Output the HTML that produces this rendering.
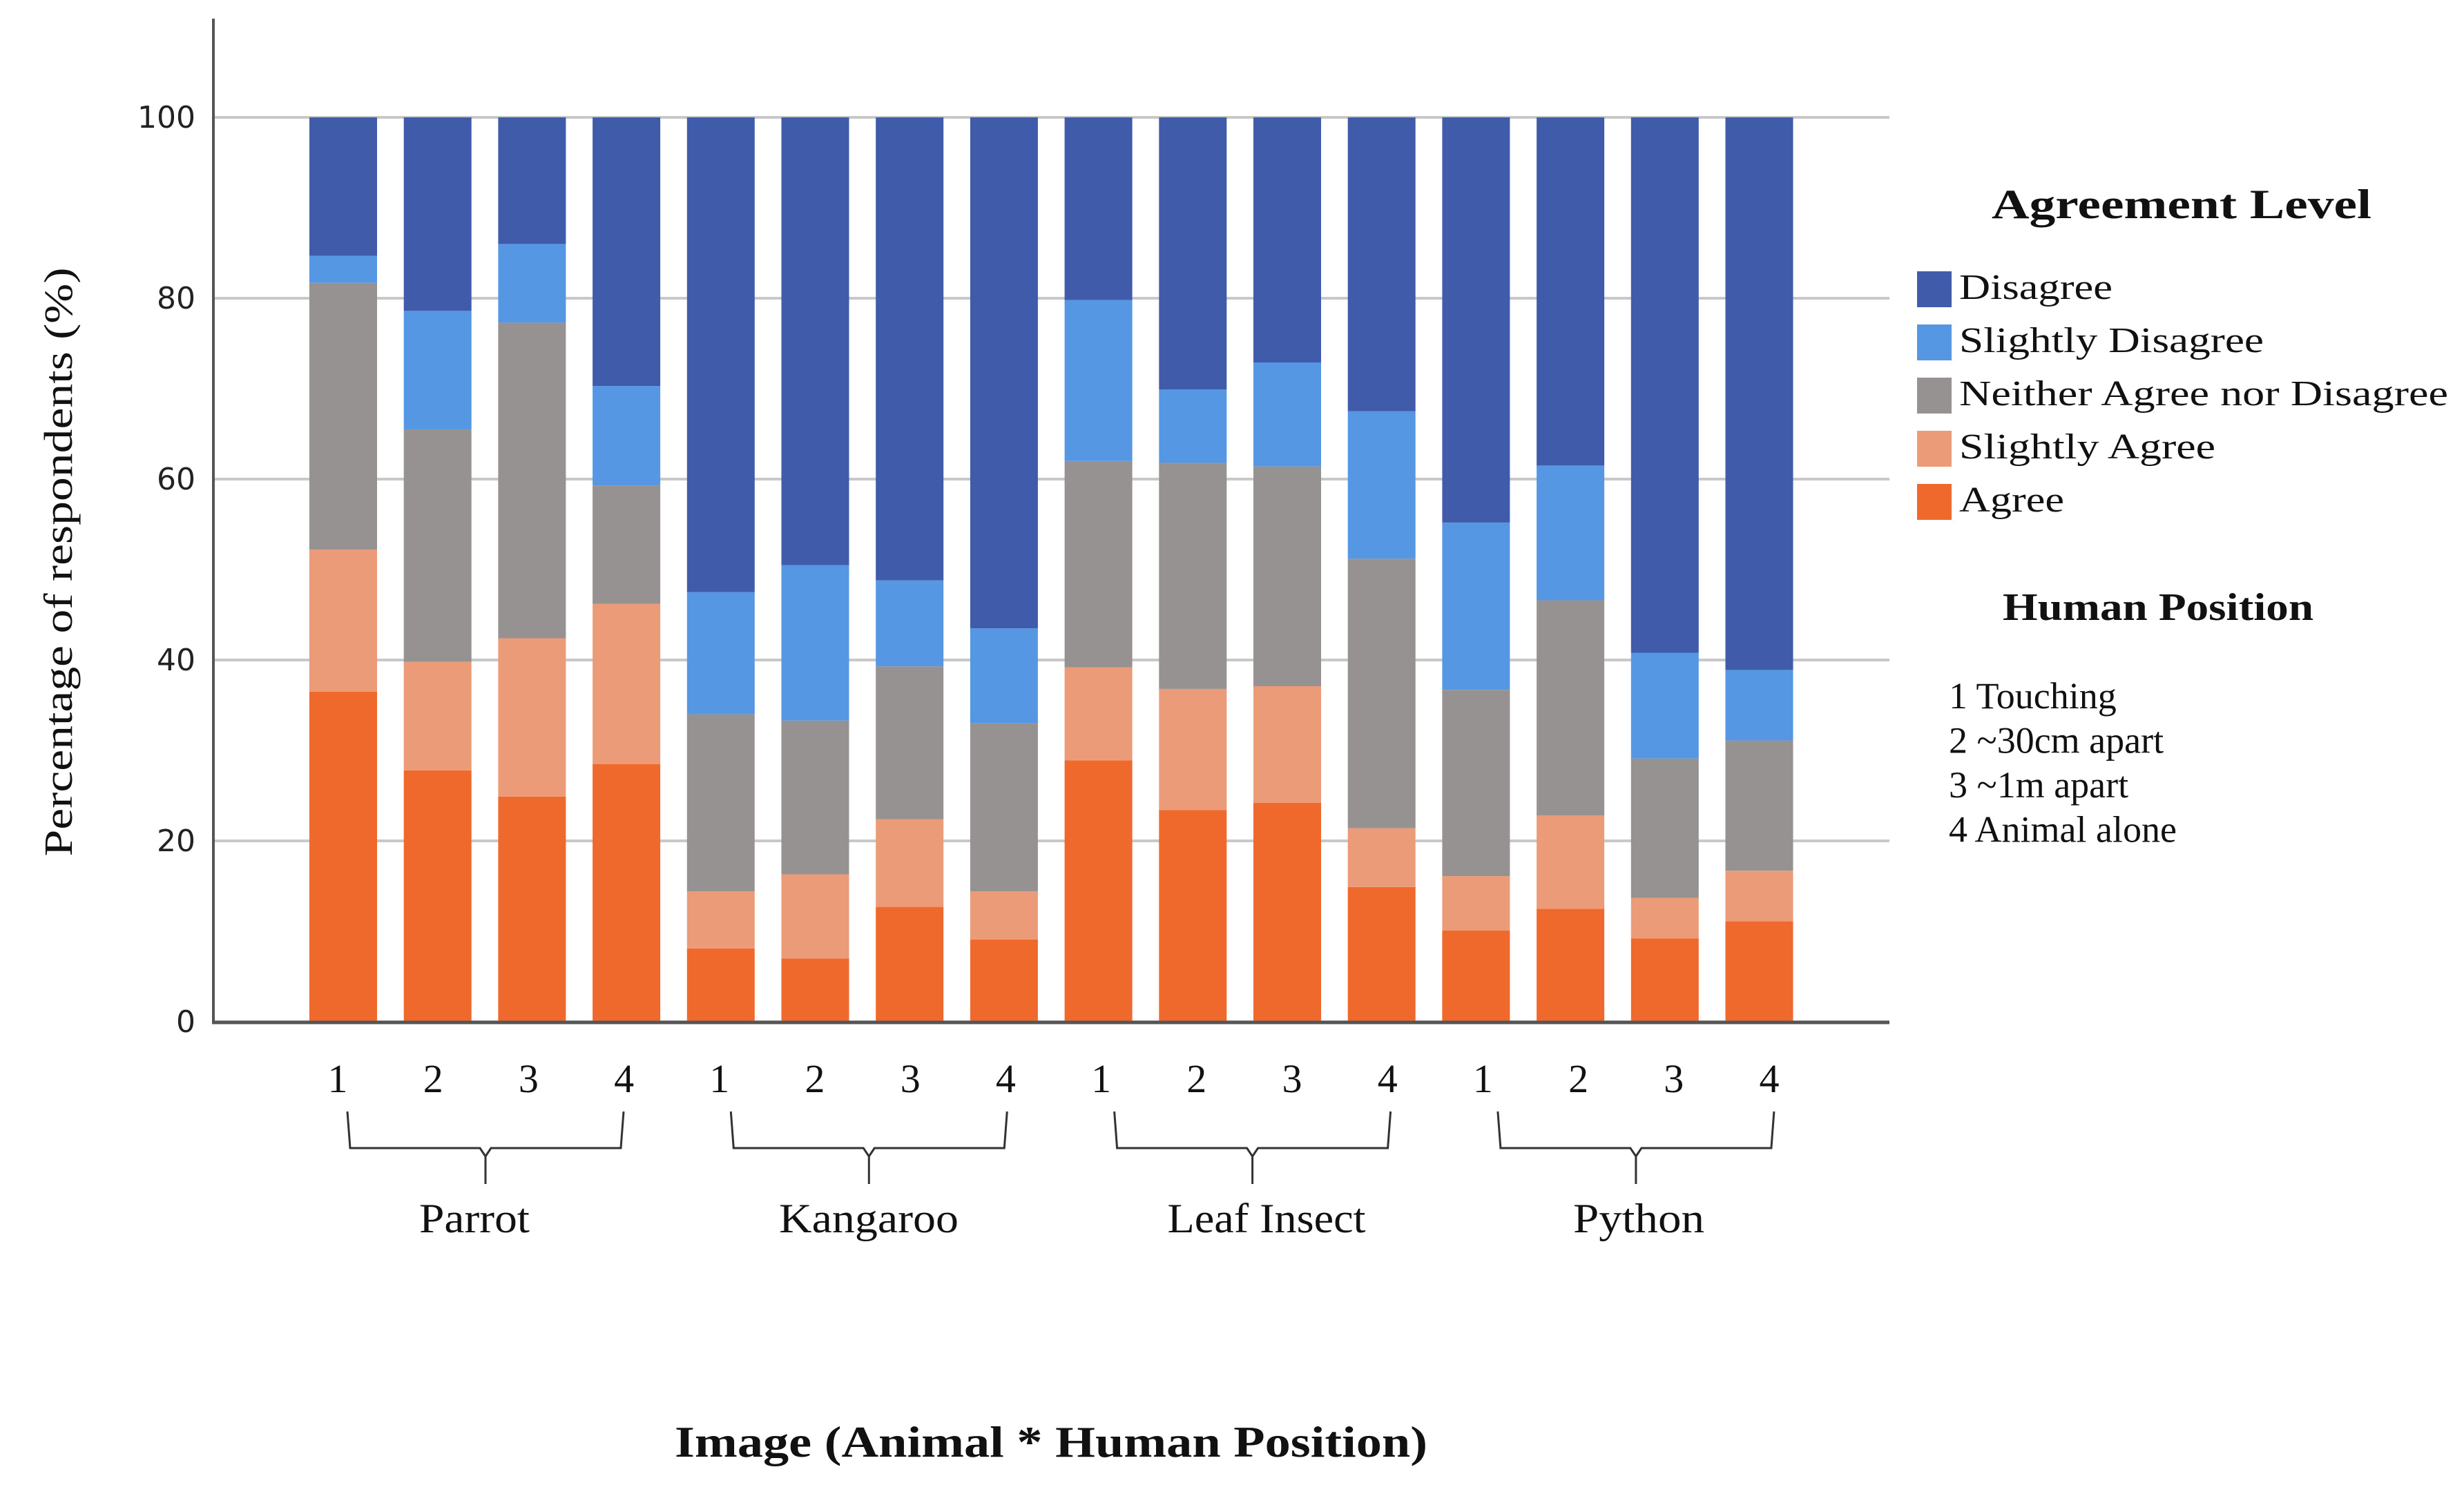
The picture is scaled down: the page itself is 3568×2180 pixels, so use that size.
<!DOCTYPE html>
<html><head><meta charset="utf-8">
<style>html,body{margin:0;padding:0;background:#fff;}svg{display:block;}</style>
</head><body>
<svg id="chart" width="3568" height="2180" viewBox="0 0 3568 2180" xmlns="http://www.w3.org/2000/svg"></svg>
<script>
const categories = ["1","2","3","4","1","2","3","4","1","2","3","4","1","2","3","4"];
const groups = ["Parrot","Kangaroo","Leaf Insect","Python"];
const seriesNames = ["Agree","Slightly Agree","Neither Agree nor Disagree","Slightly Disagree","Disagree"];
const agree = [36.5,27.8,24.9,28.5,8.1,7.0,12.7,9.1,28.9,23.4,24.2,14.9,10.1,12.5,9.2,11.1];
const slightlyAgree = [15.7,12.0,17.5,17.7,6.3,9.3,9.7,5.3,10.3,13.4,12.9,6.5,6.0,10.3,4.5,5.6];
const neither = [29.5,25.7,34.9,13.1,19.6,17.0,16.9,18.6,22.8,25.0,24.3,29.8,20.6,23.8,15.4,14.4];
const slightlyDisagree = [3.0,13.1,8.7,11.0,13.5,17.2,9.5,10.5,17.8,8.1,11.5,16.3,18.5,14.9,11.7,7.8];
const disagree = [15.3,21.4,14.0,29.7,52.5,49.5,51.2,56.5,20.2,30.1,27.1,32.5,44.8,38.5,59.2,61.1];
const yTicks = [0,20,40,60,80,100];
const legendHuman = ["1 Touching","2 ~30cm apart","3 ~1m apart","4 Animal alone"];

const colors = ["#f0692c","#ec9b78","#979292","#5597e2","#3f5ba9"];
const series = [agree, slightlyAgree, neither, slightlyDisagree, disagree];
const NS = "http://www.w3.org/2000/svg";
const svg = document.getElementById("chart");
const y0 = 1480, y100 = 170;
const yScale = v => y0 - (y0 - y100) * v / 100;
const barLeft0 = 448, pitch = 136.7, barW = 98;
const xScale = i => barLeft0 + i * pitch;

function el(tag, attrs, text) {
  const e = document.createElementNS(NS, tag);
  for (const k in attrs) e.setAttribute(k, attrs[k]);
  if (text !== undefined) e.textContent = text;
  svg.appendChild(e);
  return e;
}
const serif = '"Liberation Serif", serif';

yTicks.forEach(t => {
  const g = el("line", {x1: 309, x2: 2736, y1: yScale(t), y2: yScale(t), stroke: "#c8c8c8", "stroke-width": 4});
  
  
  const tl = el("text", {x: 283, y: yScale(t) + 15, "text-anchor": "end", "font-family": '"DejaVu Sans", sans-serif', "font-size": 44, fill: "#222"}, String(t));
  
  
});

categories.forEach((c, i) => {
  let acc = 0;
  series.forEach((s, k) => {
    const v = s[i];
    const r = el("rect", {x: xScale(i), y: yScale(acc + v), width: barW, height: yScale(acc) - yScale(acc + v), fill: colors[k]});
    
    
    acc += v;
  });
  const lbl = el("text", {x: 489 + i * 138.2, y: 1582, "text-anchor": "middle", "font-family": serif, "font-size": 58, fill: "#111"}, c);
  
  
});

const ya = el("line", {x1: 309, x2: 309, y1: 27, y2: 1482, stroke: "#555", "stroke-width": 4});


const xa = el("line", {x1: 307, x2: 2736, y1: 1481, y2: 1481, stroke: "#555", "stroke-width": 5});



const groupW = [160, 260, 287, 190];
const labelX = [687, 1258, 1834, 2373];
groups.forEach((g, j) => {
  const xl = 503 + j * 555.3, xr = xl + 400;
  const xm = (xl + xr) / 2;
  const p = el("path", {d: `M${xl} 1610 L${xl + 4} 1663 L${xm - 8} 1663 L${xm} 1675 L${xm} 1715 M${xm} 1675 L${xm + 8} 1663 L${xr - 4} 1663 L${xr} 1610`, fill: "none", stroke: "#333", "stroke-width": 3});
  
  
  const t = el("text", {x: labelX[j], y: 1785, "text-anchor": "middle", "font-family": serif, "font-size": 60, fill: "#111", textLength: groupW[j], lengthAdjust: "spacingAndGlyphs"}, g);
  
  
});

const xt = el("text", {x: 977, y: 2110, "font-family": serif, "font-size": 64, "font-weight": "bold", fill: "#111", textLength: 1090, lengthAdjust: "spacingAndGlyphs"}, "Image (Animal * Human Position)");


const yt = el("text", {x: 0, y: 0, transform: "translate(104,814) rotate(-90)", "text-anchor": "middle", "font-family": serif, "font-size": 58, fill: "#111", textLength: 853, lengthAdjust: "spacingAndGlyphs"}, "Percentage of respondents (%)");



const lt = el("text", {x: 3159, y: 316, "text-anchor": "middle", "font-family": serif, "font-size": 60, "font-weight": "bold", fill: "#111", textLength: 550, lengthAdjust: "spacingAndGlyphs"}, "Agreement Level");


const legendOrder = [4, 3, 2, 1, 0];
const lw = [222, 441, 708, 371, 152];
legendOrder.forEach((k, r) => {
  const cy = 419 + r * 77;
  const sq = el("rect", {x: 2776, y: cy - 26, width: 50, height: 52, fill: colors[k]});
  
  
  const t = el("text", {x: 2837, y: cy + 14, "font-family": serif, "font-size": 52, fill: "#111", textLength: lw[r], lengthAdjust: "spacingAndGlyphs"}, seriesNames[k]);
  
  
});
const ht = el("text", {x: 3125, y: 898, "text-anchor": "middle", "font-family": serif, "font-size": 56, "font-weight": "bold", fill: "#111", textLength: 450, lengthAdjust: "spacingAndGlyphs"}, "Human Position");


legendHuman.forEach((h, r) => {
  const t = el("text", {x: 2822, y: 1026 + r * 64.5, "font-family": serif, "font-size": 54, fill: "#111"}, h);
  
  
});
</script>
</body></html>
